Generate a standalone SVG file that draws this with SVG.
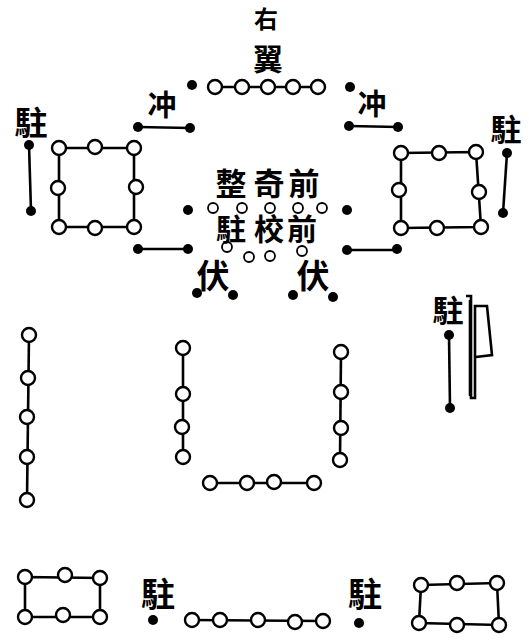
<svg xmlns="http://www.w3.org/2000/svg" width="529" height="641" viewBox="0 0 529 641">
<style>
.c{fill:#fff;stroke:#000;stroke-width:2.4}
.s{fill:#fff;stroke:#000;stroke-width:1.8}
.d{fill:#000}
.l{stroke:#000;stroke-width:2.6;fill:none}
text{font-family:"Noto Sans CJK TC","Noto Sans CJK SC",sans-serif;font-weight:bold;text-anchor:middle;fill:#000}
</style>
<rect width="529" height="641" fill="#fff"/>
<g id="connectors">
<path class="l" d="M215,87H318"/>
<path class="l" d="M138,127L190,128"/>
<path class="l" d="M349,126L398,127"/>
<path class="l" d="M29,145L31,211"/>
<path class="l" d="M507,153L503,213"/>
<path class="l" d="M59,148H134V227H59Z"/>
<path class="l" d="M401,153L476,152L481,227L401,228Z"/>
<path class="l" d="M138,249H188"/>
<path class="l" d="M347,250H397"/>
<path class="l" d="M449,335L450,408"/>
<path class="l" d="M29,335L27,500"/>
<path class="l" d="M183,348L183,457"/>
<path class="l" d="M341,352L340,460"/>
<path class="l" d="M210,483H314"/>
<path class="l" d="M25,577L100,578L100,617L25,617Z"/>
<path class="l" d="M192,620L323,621"/>
<path class="l" d="M421,585L497,583L499,625L419,623Z"/>
</g>
<g id="flag">
<path class="l" stroke-width="1.6" d="M466,296H471V398H475V306H487L492,355L476,357"/>
<path class="l" stroke-width="1.6" d="M470,300V396"/>
</g>
<g id="top-wing">
<circle class="d" cx="192" cy="85" r="5"/>
<circle class="c" cx="215" cy="87" r="7"/>
<circle class="c" cx="242" cy="87" r="7"/>
<circle class="c" cx="268" cy="87" r="7"/>
<circle class="c" cx="293" cy="87" r="7"/>
<circle class="c" cx="318" cy="87" r="7"/>
<circle class="d" cx="350" cy="87" r="5"/>
<text x="266" y="28" font-size="24">右</text>
<text x="268" y="70" font-size="30">翼</text>
</g>
<g id="charge-left">
<text x="162" y="116" font-size="29">冲</text>
<circle class="d" cx="138" cy="127" r="5"/>
<circle class="d" cx="190" cy="128" r="5"/>
</g>
<g id="charge-right">
<text x="372" y="115" font-size="29">冲</text>
<circle class="d" cx="349" cy="126" r="5"/>
<circle class="d" cx="398" cy="127" r="5"/>
</g>
<g id="post-left">
<text x="31" y="135" font-size="33">駐</text>
<circle class="d" cx="29" cy="145" r="5"/>
<circle class="d" cx="31" cy="211" r="5"/>
</g>
<g id="post-right">
<text x="506" y="141" font-size="31">駐</text>
<circle class="d" cx="507" cy="153" r="5"/>
<circle class="d" cx="503" cy="213" r="5"/>
</g>
<g id="square-left">
<circle class="c" cx="59" cy="148" r="7"/>
<circle class="c" cx="95" cy="147" r="7"/>
<circle class="c" cx="134" cy="148" r="7"/>
<circle class="c" cx="58" cy="188" r="7"/>
<circle class="c" cx="136" cy="187" r="7"/>
<circle class="c" cx="59" cy="227" r="7"/>
<circle class="c" cx="95" cy="228" r="7"/>
<circle class="c" cx="134" cy="227" r="7"/>
</g>
<g id="square-right">
<circle class="c" cx="401" cy="153" r="7"/>
<circle class="c" cx="439" cy="153" r="7"/>
<circle class="c" cx="476" cy="152" r="7"/>
<circle class="c" cx="399" cy="190" r="7"/>
<circle class="c" cx="479" cy="192" r="7"/>
<circle class="c" cx="401" cy="228" r="7"/>
<circle class="c" cx="437" cy="228" r="7"/>
<circle class="c" cx="481" cy="227" r="7"/>
</g>
<g id="center">
<circle class="d" cx="188" cy="210" r="5"/>
<circle class="d" cx="347" cy="210" r="5"/>
<circle class="d" cx="188" cy="249" r="5"/>
<circle class="d" cx="347" cy="250" r="5"/>
<circle class="d" cx="397" cy="249" r="5"/>
<circle class="d" cx="138" cy="249" r="5"/>
<circle class="s" cx="213" cy="208" r="5"/>
<circle class="s" cx="242" cy="208" r="5"/>
<circle class="s" cx="270" cy="208" r="5"/>
<circle class="s" cx="298" cy="208" r="5"/>
<circle class="s" cx="322" cy="208" r="5"/>
<circle class="s" cx="227" cy="247" r="5"/>
<circle class="s" cx="249" cy="257" r="5"/>
<circle class="s" cx="270" cy="256" r="5"/>
<circle class="s" cx="302" cy="251" r="5"/>
<text x="231" y="195" font-size="31">整</text>
<text x="269" y="195" font-size="31">奇</text>
<text x="304" y="195" font-size="31">前</text>
<text x="231" y="240" font-size="30">駐</text>
<text x="269" y="240" font-size="30">校</text>
<text x="302" y="240" font-size="30">前</text>
</g>
<g id="ambush-left">
<text x="213" y="288" font-size="33">伏</text>
<circle class="d" cx="197" cy="293" r="5"/>
<circle class="d" cx="233" cy="295" r="5"/>
</g>
<g id="ambush-right">
<text x="313" y="288" font-size="33">伏</text>
<circle class="d" cx="293" cy="295" r="5"/>
<circle class="d" cx="333" cy="297" r="5"/>
</g>
<g id="post-flag">
<text x="448" y="322" font-size="31">駐</text>
<circle class="d" cx="449" cy="335" r="5"/>
<circle class="d" cx="450" cy="408" r="5"/>
</g>
<g id="column-left">
<circle class="c" cx="29" cy="335" r="7"/>
<circle class="c" cx="28" cy="378" r="7"/>
<circle class="c" cx="27" cy="417" r="7"/>
<circle class="c" cx="27" cy="457" r="7"/>
<circle class="c" cx="27" cy="500" r="7"/>
</g>
<g id="column-center-left">
<circle class="c" cx="183" cy="348" r="7"/>
<circle class="c" cx="183" cy="394" r="7"/>
<circle class="c" cx="182" cy="427" r="7"/>
<circle class="c" cx="183" cy="457" r="7"/>
</g>
<g id="column-center-right">
<circle class="c" cx="341" cy="352" r="7"/>
<circle class="c" cx="341" cy="392" r="7"/>
<circle class="c" cx="341" cy="428" r="7"/>
<circle class="c" cx="340" cy="460" r="7"/>
</g>
<g id="row-rear">
<circle class="c" cx="210" cy="483" r="7"/>
<circle class="c" cx="247" cy="483" r="7"/>
<circle class="c" cx="274" cy="482" r="7"/>
<circle class="c" cx="314" cy="483" r="7"/>
</g>
<g id="rect-bottom-left">
<circle class="c" cx="25" cy="577" r="7"/>
<circle class="c" cx="65" cy="575" r="7"/>
<circle class="c" cx="100" cy="578" r="7"/>
<circle class="c" cx="25" cy="617" r="7"/>
<circle class="c" cx="63" cy="615" r="7"/>
<circle class="c" cx="100" cy="617" r="7"/>
</g>
<g id="post-bottom-left">
<text x="158" y="607" font-size="34">駐</text>
<circle class="d" cx="153" cy="620" r="5"/>
</g>
<g id="row-bottom">
<circle class="c" cx="192" cy="620" r="7"/>
<circle class="c" cx="220" cy="620" r="7"/>
<circle class="c" cx="258" cy="620" r="7"/>
<circle class="c" cx="295" cy="622" r="7"/>
<circle class="c" cx="323" cy="621" r="7"/>
</g>
<g id="post-bottom-right">
<text x="365" y="607" font-size="34">駐</text>
<circle class="d" cx="359" cy="623" r="5"/>
</g>
<g id="rect-bottom-right">
<circle class="c" cx="421" cy="585" r="7"/>
<circle class="c" cx="457" cy="583" r="7"/>
<circle class="c" cx="497" cy="583" r="7"/>
<circle class="c" cx="419" cy="623" r="7"/>
<circle class="c" cx="457" cy="625" r="7"/>
<circle class="c" cx="499" cy="625" r="7"/>
</g>
</svg>
